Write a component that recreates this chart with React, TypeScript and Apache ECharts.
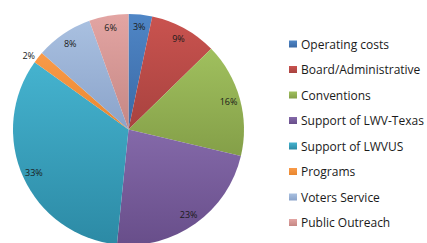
import React, { useEffect, useRef } from "react";
import * as echarts from "echarts";

const categories = [
  "Operating costs",
  "Board/Administrative",
  "Conventions",
  "Support of LWV-Texas",
  "Support of LWVUS",
  "Programs",
  "Voters Service",
  "Public Outreach",
];
const values = [3.3, 9.4, 16.0, 22.9, 33.3, 1.6, 8.0, 5.5];
const topColors = ["#4f86c6", "#c9534f", "#a0c05e", "#8469a9", "#45b3cf", "#f99a48", "#a9c0e0", "#e3a5a3"];
const bottomColors = ["#3a69a5", "#a8423f", "#849f48", "#684e8a", "#2c8aa5", "#e8872f", "#8aa3ca", "#c58784"];
const baseColors = ["#4a7ebb", "#be4b48", "#98b954", "#7d60a0", "#46aac5", "#f79646", "#9db5d9", "#d99795"];

export default function App() {
  const ref = useRef<HTMLDivElement>(null);
  useEffect(() => {
    if (!ref.current) return;
    const chart = echarts.init(ref.current, undefined, { renderer: "svg" });
    const grad = (i: number) =>
      new echarts.graphic.LinearGradient(0, 0, 0, 1, [
        { offset: 0, color: topColors[i] },
        { offset: 1, color: bottomColors[i] },
      ]);
    const fmt = (p: any) => Math.round(p.percent) + "%";
    chart.setOption({
      animation: false,
      backgroundColor: "#ffffff",
      color: baseColors,
      legend: {
        orient: "vertical",
        left: 284,
        top: 32,
        itemWidth: 8,
        itemHeight: 7,
        itemGap: 11.5,
        icon: "rect",
        data: categories,
        textStyle: {
          fontFamily: "Open Sans",
          fontSize: 12,
          color: "#1a1a1a",
          lineHeight: 14,
          padding: [0, 0, 0, -1],
        },
      },
      series: [
        {
          type: "pie",
          center: [128.5, 129.5],
          radius: [0, 115.5],
          startAngle: 90,
          clockwise: true,
          silent: true,
          itemStyle: { borderWidth: 0 },
          label: { show: false },
          labelLine: { show: false },
          data: categories.map((c, i) => ({
            name: c,
            value: values[i],
            itemStyle: { color: grad(i) },
          })),
        },
        {
          type: "pie",
          center: [128.5, 129.5],
          radius: [86, 115.5],
          startAngle: 90,
          clockwise: true,
          silent: true,
          legendHoverLink: false,
          itemStyle: { color: "rgba(0,0,0,0)", borderWidth: 0 },
          label: {
            show: true,
            position: "inside",
            formatter: fmt,
            fontFamily: "Open Sans",
            fontSize: 9,
            color: "#1a1a1a",
          },
          labelLine: { show: false },
          data: categories.map((c, i) => ({
            name: c + " ",
            value: values[i],
            ...(i === 5
              ? {
                  label: { position: "outside", distanceToLabelLine: 0 },
                  labelLine: { show: false, length: 4, length2: 0 },
                }
              : {}),
          })),
        },
      ],
    });
    return () => chart.dispose();
  }, []);
  return <div ref={ref} style={{ width: 427, height: 243, position: "absolute", left: 0, top: 0 }} />;
}
